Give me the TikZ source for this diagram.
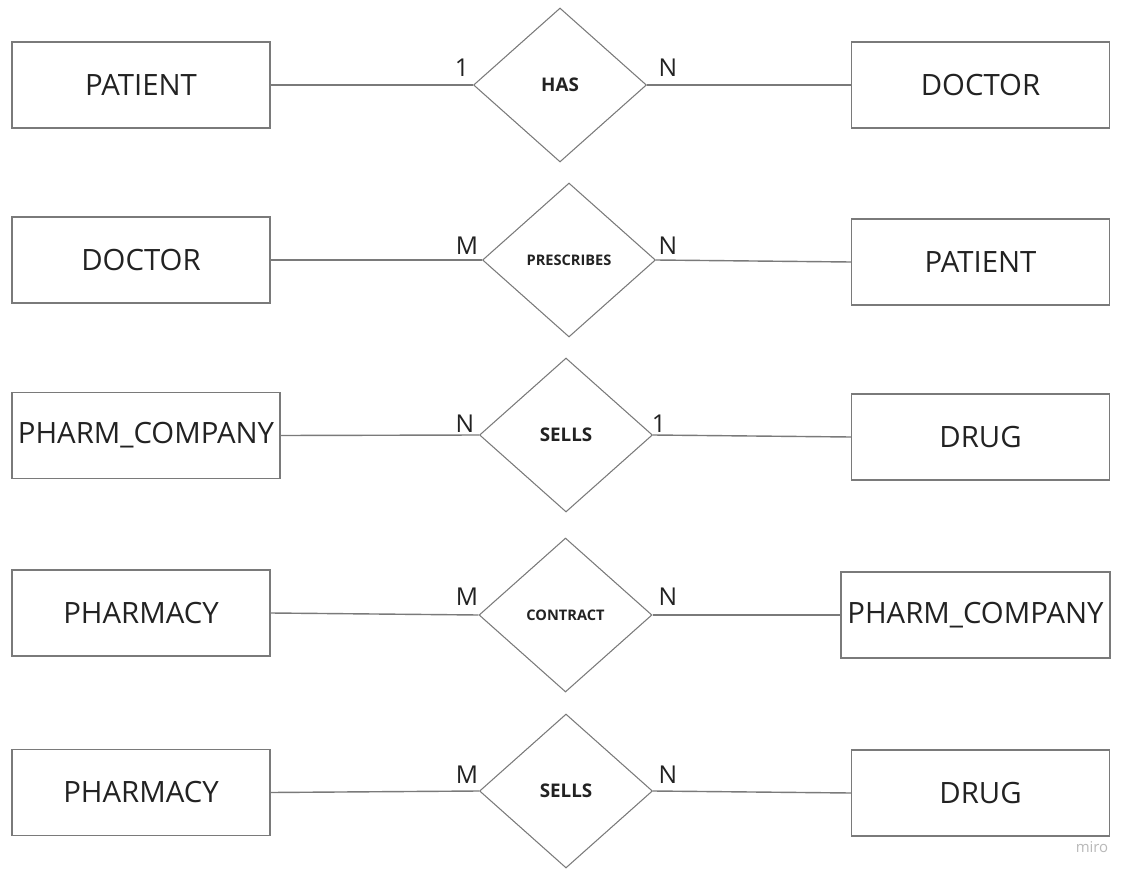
\documentclass[tikz,border=0pt]{standalone}
\usepackage{fontspec}
\setmainfont{Open Sans}
\usetikzlibrary{shapes.geometric}
\definecolor{linegray}{HTML}{7A7A7A}
\definecolor{inkgray}{HTML}{222222}
\tikzset{
  entity/.style={draw=linegray, line width=0.8pt, minimum width=5.16cm, minimum height=1.72cm, inner sep=0pt, text=inkgray, font=\fontsize{16.7}{20}\selectfont},
  relation/.style={diamond, draw=linegray, line width=0.6pt, minimum width=3.46cm, minimum height=3.08cm, inner sep=0pt, text=inkgray, font=\bfseries\fontsize{10.7}{13}\selectfont},
  smallrel/.style={relation, font=\bfseries\fontsize{8.3}{10}\selectfont},
  card/.style={text=inkgray, inner sep=0pt, font=\fontsize{14}{16}\selectfont},
  link/.style={draw=linegray, line width=0.8pt}
}
\begin{document}
\begin{tikzpicture}[x=0.02cm, y=-0.02cm]
		\useasboundingbox[fill=white] (0,0) rectangle (1137,879);

		% row 1
		\node[entity] (patA) at (141,85) {PATIENT};
		\node[relation] (has) at (560,85) {HAS};
		\node[entity] (docA) at (980.5,85) {DOCTOR};
		\draw[link] (patA.east) -- (has.west);
		\draw[link] (has.east) -- (docA.west);
		\node[card] (hasL) at (462,68) {1};
		\node[card] (hasR) at (668,68) {N};

		% row 2
		\node[entity] (docB) at (141,260) {DOCTOR};
		\node[smallrel] (prescribes) at (569,260) {PRESCRIBES};
		\node[entity] (patB) at (980.5,262) {PATIENT};
		\draw[link] (docB.east) -- (prescribes.west);
		\draw[link] (prescribes.east) -- (patB.west);
		\node[card] (preL) at (467,246) {M};
		\node[card] (preR) at (668,246) {N};

		% row 3
		\node[entity, minimum width=5.36cm] (compA) at (146,435.5) {PHARM\_COMPANY};
		\node[relation] (sellsA) at (566,435) {SELLS};
		\node[entity] (drugA) at (980.5,437) {DRUG};
		\draw[link] (compA.east) -- (sellsA.west);
		\draw[link] (sellsA.east) -- (drugA.west);
		\node[card] (sellsAL) at (465,424) {N};
		\node[card] (sellsAR) at (659,424) {1};

		% row 4
		\node[entity] (pharmA) at (141,613) {PHARMACY};
		\node[smallrel] (contract) at (565.5,615) {CONTRACT};
		\node[entity, minimum width=5.38cm] (compB) at (975.5,615) {PHARM\_COMPANY};
		\draw[link] (pharmA.east) -- (contract.west);
		\draw[link] (contract.east) -- (compB.west);
		\node[card] (conL) at (467,597) {M};
		\node[card] (conR) at (668,597) {N};

		% row 5
		\node[entity] (pharmB) at (141,792.5) {PHARMACY};
		\node[relation] (sellsB) at (566,791) {SELLS};
		\node[entity] (drugB) at (980.5,793) {DRUG};
		\draw[link] (pharmB.east) -- (sellsB.west);
		\draw[link] (sellsB.east) -- (drugB.west);
		\node[card] (sellsBL) at (467,775) {M};
		\node[card] (sellsBR) at (668,775) {N};

		\node[text=gray!55, font=\fontsize{8.5}{10}\selectfont] (miro) at (1092,847) {miro};
	\end{tikzpicture}
\end{document}
